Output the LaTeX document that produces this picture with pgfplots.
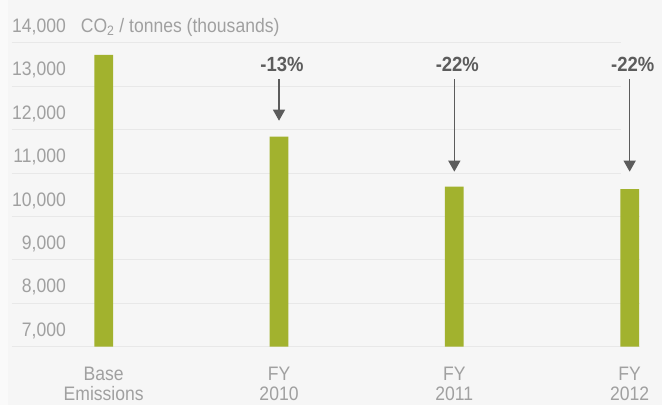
\documentclass[border=0pt]{standalone}
\usepackage{pgfplots}
\pgfplotsset{compat=1.18}
\usetikzlibrary{arrows.meta}
\usepackage{fontspec}
\setmainfont{Liberation Sans}[FakeStretch=0.9]
\definecolor{bg}{HTML}{F6F6F6}
\definecolor{strip}{HTML}{FAFAFA}
\definecolor{barc}{HTML}{A2B22E}
\definecolor{gridc}{HTML}{E8E8E8}
\definecolor{labc}{HTML}{A0A0A0}
\definecolor{darkc}{HTML}{5C5C5C}
\begin{document}
\begin{tikzpicture}[font=\fontsize{19.5}{20}\selectfont]
\useasboundingbox (0,0) rectangle (662pt,405pt);
\fill[bg] (0,0) rectangle (662pt,405pt);
\fill[strip] (0,0) rectangle (8pt,405pt);
\begin{axis}[
  at={(12pt,58.3pt)}, anchor=south west,
  scale only axis, width=628pt, height=304pt,
  xmin=-0.523, xmax=3.059, ymin=7000, ymax=14000,
  clip mode=individual,
  axis line style={draw=none},
  major tick length=0pt,
  tick style={draw=none},
  scaled y ticks=false,
  ytick={7000,8000,...,14000},
  xtick={0,1,2,3},
  xticklabels={{Base\\Emissions},{FY\\2010},{FY\\2011},{FY\\2012}},
  tick label style={font=\fontsize{19.5}{20}\selectfont, text=labc},
  xticklabel style={align=center, anchor=north, inner sep=0pt, yshift=-20pt},
  yticklabel style={anchor=base east, inner sep=0pt, xshift=54pt, yshift=10.4pt},
  /pgf/number format/1000 sep={,},
  /pgf/number format/assume math mode=true,
]
\pgfplotsinvokeforeach{11000,12000,13000,14000}{
  \draw[gridc, line width=0.9pt] (axis cs:-0.523,#1) -- (axis cs:2.951,#1);
}
\pgfplotsinvokeforeach{7000,8000,9000,10000}{
  \draw[gridc, line width=0.9pt] (axis cs:-0.523,#1) -- (axis cs:3.059,#1);
}
\addplot[ybar, bar width=18.7pt, bar shift=0pt, fill=barc, draw=none]
  coordinates {(0,13717) (1,11836) (2,10684) (3,10631)};
\draw[darkc, line width=1.3pt, -{Triangle[width=12pt,length=11pt]}] (axis cs:1,13157) -- (axis cs:1,12204);
\draw[darkc, line width=1.3pt, -{Triangle[width=12pt,length=11pt]}] (axis cs:2,13157) -- (axis cs:2,11030);
\draw[darkc, line width=1.3pt, -{Triangle[width=12pt,length=11pt]}] (axis cs:3,13157) -- (axis cs:3,11030);
\node[anchor=base, inner sep=0pt, text=darkc, font=\fontsize{20.5}{20}\selectfont\bfseries, xshift=3pt] at (axis cs:1,13348) {-13\%};
\node[anchor=base, inner sep=0pt, text=darkc, font=\fontsize{20.5}{20}\selectfont\bfseries, xshift=3pt] at (axis cs:2,13348) {-22\%};
\node[anchor=base, inner sep=0pt, text=darkc, font=\fontsize{20.5}{20}\selectfont\bfseries, xshift=3pt] at (axis cs:3,13348) {-22\%};
\end{axis}
\node[anchor=base west, inner sep=0pt, text=labc] at (80.7pt,372.7pt) {CO\textsubscript{2} / tonnes (thousands)};
\end{tikzpicture}
\end{document}
